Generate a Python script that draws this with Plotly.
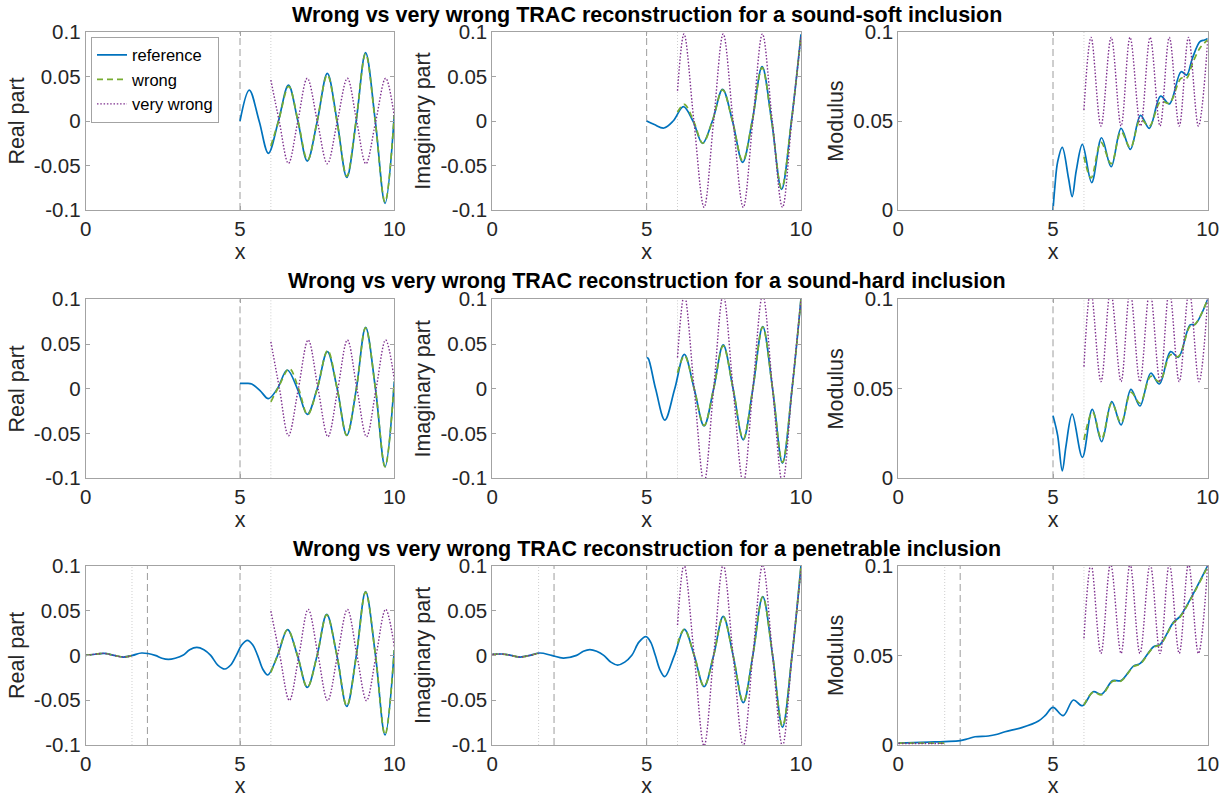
import plotly.graph_objects as go

# ---------------- data ----------------
# Row 1: sound-soft inclusion
soft_re_ref_x = [5.0, 5.30, 5.62, 5.92, 6.245, 6.57, 6.875, 7.18, 7.505, 7.83, 8.145, 8.46, 8.765, 9.07, 9.385, 9.70, 10.0]
soft_re_ref_y = [0.0, 0.0348, 0.0, -0.0363, 0.0, 0.0404, 0.0, -0.045, 0.0, 0.0535, 0.0, -0.0633, 0.0, 0.0768, 0.0, -0.0925, 0.0067]
soft_re_wr_x = [6.0, 6.25, 6.58, 6.88, 7.19, 7.50, 7.83, 8.14, 8.46, 8.76, 9.07, 9.38, 9.70, 10.0]
soft_re_wr_y = [-0.028, 0.0, 0.039, 0.0, -0.044, 0.0, 0.052, 0.0, -0.062, 0.0, 0.0755, 0.0, -0.091, 0.0067]
soft_re_vw_x = [6.0, 6.27, 6.57, 6.875, 7.18, 7.505, 7.83, 8.155, 8.48, 8.78, 9.08, 9.40, 9.72, 10.0]
soft_re_vw_y = [0.046, 0.0, -0.0476, 0.0, 0.048, 0.0, -0.048, 0.0, 0.048, 0.0, -0.048, 0.0, 0.048, 0.005]

soft_im_ref_x = [5.0, 5.25, 5.56, 5.86, 6.19, 6.50, 6.81, 7.13, 7.46, 7.78, 8.11, 8.42, 8.74, 9.05, 9.37, 9.69, 10.0]
soft_im_ref_y = [0.0, -0.004, -0.0079, 0.0, 0.0161, 0.0, -0.0251, 0.0, 0.0356, 0.0, -0.0464, 0.0, 0.061, 0.0, -0.0768, 0.0, 0.0974]
soft_im_wr_x = [6.0, 6.22, 6.52, 6.82, 7.13, 7.46, 7.78, 8.11, 8.42, 8.74, 9.05, 9.37, 9.69, 10.0]
soft_im_wr_y = [0.010, 0.0187, 0.0, -0.025, 0.0, 0.035, 0.0, -0.045, 0.0, 0.060, 0.0, -0.0755, 0.0, 0.096]
soft_im_vw_x = [6.0, 6.21, 6.53, 6.86, 7.17, 7.48, 7.80, 8.13, 8.44, 8.75, 9.07, 9.40, 9.70, 10.0]
soft_im_vw_y = [0.034, 0.0978, 0.0, -0.097, 0.0, 0.0978, 0.0, -0.097, 0.0, 0.0978, 0.0, -0.097, 0.0, 0.095]

soft_mod_ref_x = [5.0, 5.06, 5.15, 5.30, 5.50, 5.62, 5.75, 5.95, 6.25, 6.57, 6.88, 7.20, 7.50, 7.83, 8.11, 8.48, 8.76, 9.14, 9.32, 9.50, 9.75, 9.90, 10.0]
soft_mod_ref_y = [0.0, 0.013, 0.027, 0.0352, 0.018, 0.0075, 0.022, 0.0369, 0.0154, 0.0406, 0.0243, 0.0459, 0.0341, 0.0532, 0.0459, 0.064, 0.0596, 0.0777, 0.0758, 0.085, 0.0946, 0.0955, 0.0964]
soft_mod_wr_x = [6.0, 6.23, 6.55, 6.88, 7.20, 7.50, 7.83, 8.11, 8.48, 8.76, 9.14, 9.32, 9.50, 9.75, 10.0]
soft_mod_wr_y = [0.030, 0.018, 0.038, 0.026, 0.044, 0.035, 0.051, 0.047, 0.061, 0.060, 0.074, 0.074, 0.082, 0.091, 0.0955]
soft_mod_vw_x = [6.0, 6.23, 6.55, 6.88, 7.20, 7.49, 7.83, 8.14, 8.46, 8.76, 9.08, 9.38, 9.70, 10.0]
soft_mod_vw_y = [0.0562, 0.097, 0.0472, 0.097, 0.0472, 0.097, 0.0472, 0.097, 0.0472, 0.097, 0.0472, 0.097, 0.0472, 0.095]

# Row 2: sound-hard inclusion
hard_re_ref_x = [5.0, 5.2, 5.38, 5.65, 5.92, 6.21, 6.53, 6.86, 7.18, 7.50, 7.83, 8.15, 8.46, 8.77, 9.07, 9.39, 9.70, 10.0]
hard_re_ref_y = [0.0061, 0.006, 0.0054, -0.002, -0.011, 0.0, 0.021, 0.0, -0.0285, 0.0, 0.0415, 0.0, -0.052, 0.0, 0.0687, 0.0, -0.087, 0.008]
hard_re_wr_x = [6.0, 6.25, 6.60, 6.90, 7.19, 7.50, 7.84, 8.15, 8.46, 8.77, 9.07, 9.39, 9.70, 10.0]
hard_re_wr_y = [-0.0145, 0.002, 0.0225, 0.0, -0.029, 0.0, 0.043, 0.0, -0.052, 0.0, 0.068, 0.0, -0.087, 0.008]
hard_re_vw_x = [6.0, 6.28, 6.57, 6.89, 7.21, 7.53, 7.85, 8.17, 8.48, 8.79, 9.10, 9.41, 9.72, 10.0]
hard_re_vw_y = [0.0525, 0.0, -0.0524, 0.0, 0.0545, 0.0, -0.0535, 0.0, 0.0545, 0.0, -0.0535, 0.0, 0.0545, 0.01]

hard_im_ref_x = [5.0, 5.05, 5.29, 5.59, 5.91, 6.22, 6.54, 6.86, 7.17, 7.48, 7.80, 8.13, 8.44, 8.76, 9.08, 9.40, 9.71, 10.0]
hard_im_ref_y = [0.035, 0.034, 0.0, -0.0349, 0.0, 0.0385, 0.0, -0.0415, 0.0, 0.049, 0.0, -0.057, 0.0, 0.0695, 0.0, -0.083, 0.0, 0.101]
hard_im_wr_x = [6.0, 6.23, 6.54, 6.86, 7.17, 7.48, 7.80, 8.13, 8.44, 8.76, 9.08, 9.40, 9.71, 10.0]
hard_im_wr_y = [0.018, 0.037, 0.0, -0.041, 0.0, 0.048, 0.0, -0.056, 0.0, 0.069, 0.0, -0.082, 0.0, 0.10]
hard_im_vw_x = [6.0, 6.22, 6.54, 6.86, 7.17, 7.48, 7.80, 8.13, 8.44, 8.76, 9.08, 9.40, 9.71, 10.0]
hard_im_vw_y = [0.035, 0.105, 0.0, -0.105, 0.0, 0.105, 0.0, -0.105, 0.0, 0.105, 0.0, -0.105, 0.0, 0.10]

hard_mod_ref_x = [5.0, 5.15, 5.30, 5.42, 5.62, 5.95, 6.27, 6.57, 6.90, 7.20, 7.52, 7.81, 8.16, 8.44, 8.80, 9.05, 9.43, 9.59, 10.0]
hard_mod_ref_y = [0.035, 0.024, 0.0041, 0.018, 0.0359, 0.0117, 0.0385, 0.0205, 0.0428, 0.0298, 0.0497, 0.0404, 0.0587, 0.0527, 0.0708, 0.0676, 0.0857, 0.086, 0.100]
hard_mod_wr_x = [6.0, 6.28, 6.57, 6.90, 7.20, 7.52, 7.81, 8.16, 8.44, 8.80, 9.05, 9.43, 9.59, 10.0]
hard_mod_wr_y = [0.0214, 0.037, 0.022, 0.042, 0.031, 0.048, 0.042, 0.057, 0.054, 0.069, 0.068, 0.085, 0.086, 0.100]
hard_mod_vw_x = [6.0, 6.22, 6.55, 6.86, 7.20, 7.49, 7.81, 8.13, 8.46, 8.76, 9.08, 9.40, 9.72, 10.0]
hard_mod_vw_y = [0.0624, 0.105, 0.054, 0.105, 0.054, 0.105, 0.054, 0.105, 0.054, 0.105, 0.054, 0.105, 0.054, 0.100]

# Row 3: penetrable inclusion (None separates the two pieces of a curve)
pen_re_ref_x = [0.0, 0.3, 0.6, 0.92, 1.22, 1.52, 1.81, 2.25, 2.47, 2.68, 2.90, 3.15, 3.37, 3.60, 3.83, 4.05, 4.28, 4.51, 4.70, 4.88, 5.06, 5.24, 5.41, 5.57, 5.74, 5.90, 6.22, 6.54, 6.86, 7.18, 7.50, 7.81, 8.14, 8.46, 8.77, 9.07, 9.39, 9.70, 10.0]
pen_re_ref_y = [0.0, 0.0012, 0.0022, 0.0, -0.0019, 0.0, 0.0026, 0.0, -0.0032, -0.0045, -0.0032, 0.0, 0.0063, 0.0089, 0.0063, 0.0, -0.0108, -0.0152, -0.0108, 0.0, 0.0118, 0.0167, 0.0118, 0.0, -0.0155, -0.0219, 0.0, 0.0286, 0.0, -0.0357, 0.0, 0.0457, 0.0, -0.0569, 0.0, 0.071, 0.0, -0.0888, 0.006]
pen_re_wr_x = [0.0, 0.3, 0.6, 0.92, 1.22, 1.5, None, 6.0, 6.22, 6.54, 6.86, 7.18, 7.50, 7.81, 8.14, 8.46, 8.77, 9.07, 9.39, 9.70, 10.0]
pen_re_wr_y = [0.0, 0.0012, 0.0022, 0.0, -0.0019, -0.0003, None, -0.019, 0.0, 0.0286, 0.0, -0.0357, 0.0, 0.0452, 0.0, -0.0565, 0.0, 0.0705, 0.0, -0.0885, 0.006]
pen_re_vw_x = [0.0, 0.3, 0.6, 0.92, 1.22, 1.5, None, 6.0, 6.29, 6.60, 6.91, 7.21, 7.53, 7.84, 8.16, 8.48, 8.79, 9.10, 9.41, 9.72, 10.0]
pen_re_vw_y = [0.0, 0.0012, 0.0022, 0.0, -0.0019, -0.0003, None, 0.0494, 0.0, -0.0502, 0.0, 0.0513, 0.0, -0.0505, 0.0, 0.0513, 0.0, -0.0505, 0.0, 0.0513, 0.0097]

pen_im_ref_x = [0.0, 0.3, 0.6, 0.9, 1.22, 1.54, 1.92, 2.30, 2.73, 2.95, 3.16, 3.38, 3.61, 3.84, 4.06, 4.29, 4.52, 4.75, 4.98, 5.13, 5.28, 5.44, 5.59, 5.90, 6.22, 6.54, 6.86, 7.17, 7.48, 7.80, 8.13, 8.44, 8.76, 9.08, 9.40, 9.71, 10.0]
pen_im_ref_y = [0.001, 0.0015, 0.0, -0.0019, 0.0, 0.0026, 0.0, -0.003, 0.0, 0.0045, 0.0063, 0.0045, 0.0, -0.0076, -0.0108, -0.0076, 0.0, 0.0147, 0.0208, 0.0147, 0.0, -0.0168, -0.0238, 0.0, 0.029, 0.0, -0.035, 0.0, 0.0435, 0.0, -0.0528, 0.0, 0.0654, 0.0, -0.080, 0.0, 0.100]
pen_im_wr_x = [0.0, 0.3, 0.6, 0.9, 1.22, 1.5, None, 6.0, 6.22, 6.54, 6.86, 7.17, 7.48, 7.80, 8.13, 8.44, 8.76, 9.08, 9.40, 9.71, 10.0]
pen_im_wr_y = [0.001, 0.0015, 0.0, -0.0019, 0.0, 0.0024, None, 0.013, 0.029, 0.0, -0.0345, 0.0, 0.043, 0.0, -0.052, 0.0, 0.065, 0.0, -0.079, 0.0, 0.100]
pen_im_vw_x = [0.0, 0.3, 0.6, 0.9, 1.22, 1.5, None, 6.0, 6.21, 6.54, 6.86, 7.17, 7.48, 7.80, 8.13, 8.44, 8.76, 9.08, 9.40, 9.71, 10.0]
pen_im_vw_y = [0.001, 0.0015, 0.0, -0.0019, 0.0, 0.0024, None, 0.0338, 0.101, 0.0, -0.101, 0.0, 0.101, 0.0, -0.101, 0.0, 0.101, 0.0, -0.101, 0.0, 0.095]

pen_mod_ref_x = [0.0, 0.5, 1.0, 1.5, 2.0, 2.25, 2.48, 2.91, 3.2, 3.45, 3.99, 4.53, 4.75, 5.0, 5.33, 5.66, 5.95, 6.30, 6.57, 6.93, 7.2, 7.6, 7.82, 8.25, 8.46, 8.89, 9.1, 9.54, 10.0]
pen_mod_ref_y = [0.0011, 0.0013, 0.0016, 0.0019, 0.0024, 0.0035, 0.0046, 0.005, 0.006, 0.0074, 0.0097, 0.0134, 0.0165, 0.021, 0.0164, 0.0251, 0.0219, 0.0297, 0.0283, 0.0359, 0.0359, 0.044, 0.0455, 0.0548, 0.0561, 0.0684, 0.0716, 0.0846, 0.100]
pen_mod_wr_x = [0.0, 0.5, 1.0, 1.5, None, 6.0, 6.30, 6.57, 6.93, 7.2, 7.6, 7.82, 8.25, 8.46, 8.89, 9.1, 9.54, 10.0]
pen_mod_wr_y = [0.0010, 0.0010, 0.0010, 0.0010, None, 0.0223, 0.0295, 0.028, 0.0355, 0.0357, 0.0437, 0.0452, 0.0545, 0.0558, 0.068, 0.0712, 0.0842, 0.0995]
pen_mod_vw_x = [0.0, 0.5, 1.0, 1.5, None, 6.0, 6.23, 6.55, 6.86, 7.20, 7.49, 7.81, 8.14, 8.46, 8.76, 9.08, 9.38, 9.70, 10.0]
pen_mod_vw_y = [0.0008, 0.0008, 0.0008, 0.0008, None, 0.0595, 0.101, 0.0511, 0.101, 0.0511, 0.101, 0.0511, 0.101, 0.0511, 0.101, 0.0511, 0.101, 0.0511, 0.100]

# labels / ticks
series_names = ["reference", "wrong", "very wrong"]
row_titles = [
    "Wrong vs very wrong TRAC reconstruction for a sound-soft inclusion",
    "Wrong vs very wrong TRAC reconstruction for a sound-hard inclusion",
    "Wrong vs very wrong TRAC reconstruction for a penetrable inclusion",
]
col_ylabels = ["Real part", "Imaginary part", "Modulus"]
x_label = "x"
x_tickvals = [0, 5, 10]
x_ticktext = ["0", "5", "10"]
y_tickvals_signed = [-0.1, -0.05, 0, 0.05, 0.1]
y_ticktext_signed = ["-0.1", "-0.05", "0", "0.05", "0.1"]
y_tickvals_mod = [0, 0.05, 0.1]
y_ticktext_mod = ["0", "0.05", "0.1"]
dashed_markers = [[5], [5], [2, 5]]
dotted_markers = [[6], [6], [1.5, 6]]

panels = [
    [((soft_re_ref_x, soft_re_ref_y), (soft_re_wr_x, soft_re_wr_y), (soft_re_vw_x, soft_re_vw_y)),
     ((soft_im_ref_x, soft_im_ref_y), (soft_im_wr_x, soft_im_wr_y), (soft_im_vw_x, soft_im_vw_y)),
     ((soft_mod_ref_x, soft_mod_ref_y), (soft_mod_wr_x, soft_mod_wr_y), (soft_mod_vw_x, soft_mod_vw_y))],
    [((hard_re_ref_x, hard_re_ref_y), (hard_re_wr_x, hard_re_wr_y), (hard_re_vw_x, hard_re_vw_y)),
     ((hard_im_ref_x, hard_im_ref_y), (hard_im_wr_x, hard_im_wr_y), (hard_im_vw_x, hard_im_vw_y)),
     ((hard_mod_ref_x, hard_mod_ref_y), (hard_mod_wr_x, hard_mod_wr_y), (hard_mod_vw_x, hard_mod_vw_y))],
    [((pen_re_ref_x, pen_re_ref_y), (pen_re_wr_x, pen_re_wr_y), (pen_re_vw_x, pen_re_vw_y)),
     ((pen_im_ref_x, pen_im_ref_y), (pen_im_wr_x, pen_im_wr_y), (pen_im_vw_x, pen_im_vw_y)),
     ((pen_mod_ref_x, pen_mod_ref_y), (pen_mod_wr_x, pen_mod_wr_y), (pen_mod_vw_x, pen_mod_vw_y))],
]

# ---------------- styling ----------------
W, H = 1225, 798
FONT = "Liberation Sans, Arial, Helvetica, sans-serif"
col_px = [(85.7, 394.3), (492.3, 801.0), (898.3, 1207.7)]
row_px = [(32.0, 210.0), (299.3, 478.3), (565.7, 745.0)]
title_center_px = [15.0, 281.5, 548.5]

styles = [
    dict(color="#0072BD", width=1.7, dash="solid"),
    dict(color="#77AC30", width=1.7, dash="6px,4px"),
    dict(color="#7E2F8E", width=1.4, dash="1.5px,1.8px"),
]
axis_color = "#a3a3a3"
text_color = "#262626"

fig = go.Figure()
shapes = []
annotations = []

for r in range(3):
    for c in range(3):
        idx = r * 3 + c + 1
        xa = "x" if idx == 1 else f"x{idx}"
        ya = "y" if idx == 1 else f"y{idx}"
        for s in range(3):
            xs, ys = panels[r][c][s]
            fig.add_trace(go.Scatter(
                x=xs, y=ys, mode="lines", name=series_names[s],
                line=dict(shape="spline", smoothing=1.0, **styles[s]),
                connectgaps=False, showlegend=(idx == 1),
                xaxis=xa, yaxis=ya, hoverinfo="skip",
            ))
        for xv in dashed_markers[r]:
            shapes.append(dict(type="line", xref=xa, yref=f"{ya} domain", x0=xv, x1=xv, y0=0, y1=1,
                               line=dict(color="#9c9c9c", width=1, dash="7px,4px"), layer="below"))
        for xv in dotted_markers[r]:
            shapes.append(dict(type="line", xref=xa, yref=f"{ya} domain", x0=xv, x1=xv, y0=0, y1=1,
                               line=dict(color="#cfcfcf", width=1, dash="1px,2px"), layer="below"))

        x0p, x1p = col_px[c]
        y0p, y1p = row_px[r]
        is_mod = (c == 2)
        xkey = "xaxis" if idx == 1 else f"xaxis{idx}"
        ykey = "yaxis" if idx == 1 else f"yaxis{idx}"
        common = dict(showline=True, linecolor=axis_color, linewidth=1, mirror="allticks",
                      ticks="inside", ticklen=4, tickcolor=axis_color, tickwidth=1,
                      showgrid=False, zeroline=False, automargin=False,
                      tickfont=dict(family=FONT, size=20.5, color=text_color))
        fig.layout[xkey] = dict(
            domain=[x0p / W, x1p / W], anchor=ya, range=[0, 10],
            tickvals=x_tickvals, ticktext=x_ticktext,
            title=dict(text=x_label, font=dict(family=FONT, size=21.5, color=text_color), standoff=4),
            **common)
        fig.layout[ykey] = dict(
            domain=[1 - y1p / H, 1 - y0p / H], anchor=xa,
            range=[0, 0.1] if is_mod else [-0.1, 0.1],
            tickvals=y_tickvals_mod if is_mod else y_tickvals_signed,
            ticktext=y_ticktext_mod if is_mod else y_ticktext_signed,
            title=dict(text=col_ylabels[c], font=dict(family=FONT, size=21.5, color=text_color), standoff=3),
            **common)
    annotations.append(dict(
        text="<b>" + row_titles[r] + "</b>", xref="paper", yref="paper",
        x=(col_px[1][0] + col_px[1][1]) / 2 / W, y=1 - title_center_px[r] / H,
        xanchor="center", yanchor="middle", showarrow=False, borderpad=0,
        font=dict(family=FONT, size=21.5, color="#000000")))

fig.update_layout(
    width=W, height=H, template="none",
    margin=dict(l=0, r=0, t=0, b=0),
    paper_bgcolor="white", plot_bgcolor="white",
    shapes=shapes, annotations=annotations,
    showlegend=True,
    legend=dict(x=91 / W, y=1 - 36.7 / H, xanchor="left", yanchor="top",
                bgcolor="white", bordercolor=axis_color, borderwidth=1,
                font=dict(family=FONT, size=16.5, color="#000000"),
                tracegroupgap=0, itemwidth=30),
)

fig.write_html("out.html")
